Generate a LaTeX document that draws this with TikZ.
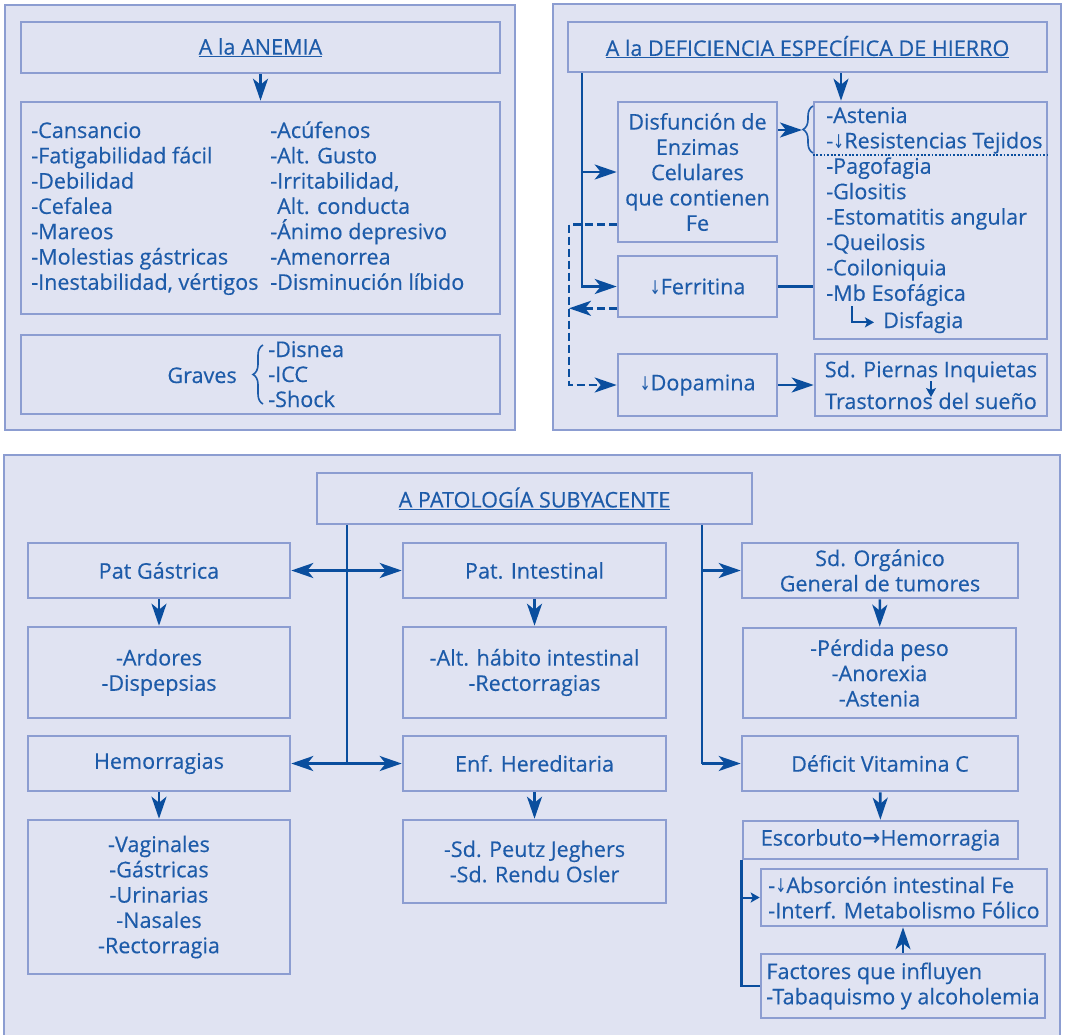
\documentclass[tikz,border=0pt]{standalone}
\usepackage{fontspec}
\setmainfont{Open Sans}[FakeBold=0.35]
\newfontfamily\flechas{DejaVu Sans}
\usetikzlibrary{arrows.meta,decorations.pathreplacing}

\definecolor{fondo}{HTML}{E0E3F2}
\definecolor{borde}{HTML}{8C9DD1}
\definecolor{texto}{HTML}{1D5BA9}
\definecolor{azul}{HTML}{0A4E9E}

\newcommand{\abajo}{\scalebox{0.7}[1]{\flechas\fontsize{19}{19}\selectfont ↓}}

\tikzset{
  panel/.style={draw=borde, fill=fondo, line width=2.4pt, inner sep=0pt},
  caja/.style={draw=borde, fill=fondo, line width=2.6pt, inner sep=0pt, text=texto, align=center},
  tam/.style 2 args={minimum width=#1, minimum height=#2},
  linea/.style={draw=azul, line width=2.6pt},
  flecha/.style={linea, -{Stealth[length=22pt,width=15pt,inset=6pt]}},
  dobleflecha/.style={linea, {Stealth[length=22pt,width=15pt,inset=6pt]}-{Stealth[length=22pt,width=15pt,inset=6pt]}},
  flechita/.style={linea, line width=2pt, -{Stealth[length=9pt,width=10pt,inset=2pt]}},
  guion/.style={dash pattern=on 8pt off 4pt},
  item/.style={text=texto, inner sep=0pt, anchor=base west},
  llave/.style={draw=texto, line width=1.6pt, decorate, decoration={brace, amplitude=10pt}}
}

\begin{document}
\begin{tikzpicture}[x=1pt, y=-1pt, font=\fontsize{21.6}{25.3}\selectfont]

   \fill[white] (0,0) rectangle (1065,1034);
   \useasboundingbox (0,0) rectangle (1065,1034);

   \def\dy{25.3} % interlineado

   % --- A la anemia
   \node[panel, tam={510}{425}] (panelA) at (260,217.5) {};
   \node[caja, tam={479}{51}] (anemia) at (260.5,47.5) {\underline{A la ANEMIA}};
   \node[caja, tam={479}{212}] (sintomas) at (260.5,208) {};
   \node[caja, tam={479}{79}] (graves) at (260.5,374.5) {};

   \draw[flecha] (anemia.south) -- (sintomas.north);

   \foreach \t [count=\i] in {-Cansancio, -Fatigabilidad fácil, -Debilidad, -Cefalea,
      -Mareos, -Molestias gástricas, {-Inestabilidad, vértigos}}
      \node[item] (izq\i) at (31, {138+\dy*(\i-1)}) {\t};
   \foreach \t [count=\i] in {-Acúfenos, -Alt. Gusto, {-Irritabilidad,}, \phantom{-}Alt. conducta,
      -Ánimo depresivo, -Amenorrea, -Disminución líbido}
      \node[item] (der\i) at (270, {138+\dy*(\i-1)}) {\t};

   \node[item, anchor=base east] (gravesT) at (237,383) {Graves};
   \foreach \t [count=\i] in {-Disnea, -ICC, -Shock}
      \node[item] (grave\i) at (268, {357+25*(\i-1)}) {\t};
   \draw[llave] (263,404) -- (263,345);

   % --- A la deficiencia de hierro
   \node[panel, tam={508}{426}] (panelB) at (807,217) {};
   \node[caja, tam={479}{50}] (hierro) at (807.5,47) {\underline{A la DEFICIENCIA ESPECÍFICA DE HIERRO}};
   \node[caja, tam={159}{140}] (disfuncion) at (697.5,172) {Disfunción de\\Enzimas\\Celulares\\que contienen\\Fe};
   \node[caja, tam={233}{237}] (lista) at (930.5,220.5) {};
   \node[caja, tam={159}{61}] (ferritina) at (697.5,286.5) {\abajo Ferritina};
   \node[caja, tam={159}{62}] (dopamina) at (697.5,385) {\abajo Dopamina};
   \node[caja, tam={232}{62}] (piernas) at (931,385) {Sd. Piernas Inquietas\\[6.5pt]Trastornos del sueño};

   \foreach \t [count=\i] in {-Astenia, -\abajo Resistencias Tejidos, -Pagofagia, -Glositis,
      -Estomatitis angular, -Queilosis, -Coiloniquia, -Mb Esofágica}
      \node[item] (sig\i) at (826, {123+25.4*(\i-1)}) {\t};
   \node[item] (disfagia) at (883,328) {Disfagia};

   \coordinate (h1) at (841,0);
   \coordinate (v1) at (582,0);
   \coordinate (d1) at (569,0);
   \coordinate (p1) at (0,155);
   \coordinate (tip) at (802,130);
   \coordinate (gancho) at (852,306);
   \coordinate (f1) at ([yshift=10pt]ferritina.south west);
   \coordinate (e1) at ([yshift=19pt]disfuncion.south west);

   \draw[flecha] (h1 |- hierro.south) -- (h1 |- lista.north);
   \draw[flecha] (v1 |- hierro.south) |- (ferritina.west);
   \draw[flecha] (v1 |- disfuncion.west) -- (disfuncion.west);
   \draw[flecha] (disfuncion.east |- tip) -- (tip);
   \draw[llave] (813,153) -- (813,106);
   \draw[dash pattern=on 1.8pt off 1.8pt, draw=azul, line width=1.8pt] (p1 -| lista.west) -- (p1 -| lista.east);
   \draw[linea] (ferritina.east) -- (ferritina.east -| lista.west);
   \draw[flecha, guion] (e1) -| (d1 |- dopamina.west) -- (dopamina.west);
   \draw[flecha, guion] (f1) -- (d1 |- f1);
   \draw[flecha] (dopamina.east) -- (piernas.west);
   \draw[flechita] (gancho) |- ([xshift=-9pt]disfagia.west);
   \draw[flechita, line width=1.2pt] ([yshift=4pt]piernas.center) -- ([yshift=-12pt]piernas.center);

   % --- A patologia subyacente
   \node[panel, tam={1056}{590}] (panelC) at (532,750) {};
   \node[caja, tam={435}{51}] (patologia) at (534.5,498.5) {\underline{A PATOLOGÍA SUBYACENTE}};

   \node[caja, tam={262}{55}] (gastrica) at (159,570.5) {Pat Gástrica};
   \node[caja, tam={262}{91}] (ardores) at (159,672.5) {-Ardores\\-Dispepsias};
   \node[caja, tam={262}{55}] (hemorragias) at (159,763.5) {Hemorragias};
   \node[caja, tam={262}{154}] (vaginales) at (159,897) {-Vaginales\\-Gástricas\\-Urinarias\\-Nasales\\-Rectorragia};

   \node[caja, tam={263}{55}] (intestinal) at (534.5,570.5) {Pat. Intestinal};
   \node[caja, tam={263}{91}] (habito) at (534.5,672.5) {-Alt. hábito intestinal\\-Rectorragias};
   \node[caja, tam={263}{55}] (hereditaria) at (534.5,763.5) {Enf. Hereditaria};
   \node[caja, tam={263}{83}] (peutz) at (534.5,861.5) {-Sd. Peutz Jeghers\\-Sd. Rendu Osler};

   \node[caja, tam={276}{55}] (organico) at (880,570.5) {Sd. Orgánico\\General de tumores};
   \node[caja, tam={273}{90}] (perdida) at (879.5,673) {-Pérdida peso\\-Anorexia\\-Astenia};
   \node[caja, tam={276}{55}] (deficit) at (880,763.5) {Déficit Vitamina C};
   \node[caja, tam={275}{38}] (escorbuto) at (880.5,840) {Escorbuto{\flechas\bfseries →}Hemorragia};
   \node[caja, tam={286}{57}, align=left] (absorcion) at (904,897.5) {-\abajo Absorción intestinal Fe\\-Interf. Metabolismo Fólico};
   \node[caja, tam={284}{64}, align=left] (factores) at (903,986) {Factores que influyen\\-Tabaquismo y alcoholemia};

   \coordinate (c1) at (347,0);
   \coordinate (c2) at (702,0);

   \draw[linea] (c1 |- patologia.south) -- (c1 |- hemorragias.east);
   \draw[linea] (c2 |- patologia.south) -- (c2 |- deficit.west);
   \draw[dobleflecha] (gastrica.east) -- (intestinal.west);
   \draw[dobleflecha] (hemorragias.east) -- (hereditaria.west);
   \draw[flecha] (c2 |- organico.west) -- (organico.west);
   \draw[flecha] (c2 |- deficit.west) -- (deficit.west);

   \draw[flecha] (gastrica) -- (ardores);
   \draw[flecha] (hemorragias) -- (vaginales);
   \draw[flecha] (intestinal) -- (habito);
   \draw[flecha] (hereditaria) -- (peutz);
   \draw[flecha] (organico) -- (perdida);
   \draw[flecha] (deficit) -- (escorbuto);

   \draw[linea] (escorbuto.south west) |- (factores.west);
   \draw[flechita] (escorbuto.south west |- absorcion.west) -- (absorcion.west);
   \draw[flecha] (factores.north) -- (factores.north |- absorcion.south);

  \end{tikzpicture}
\end{document}
